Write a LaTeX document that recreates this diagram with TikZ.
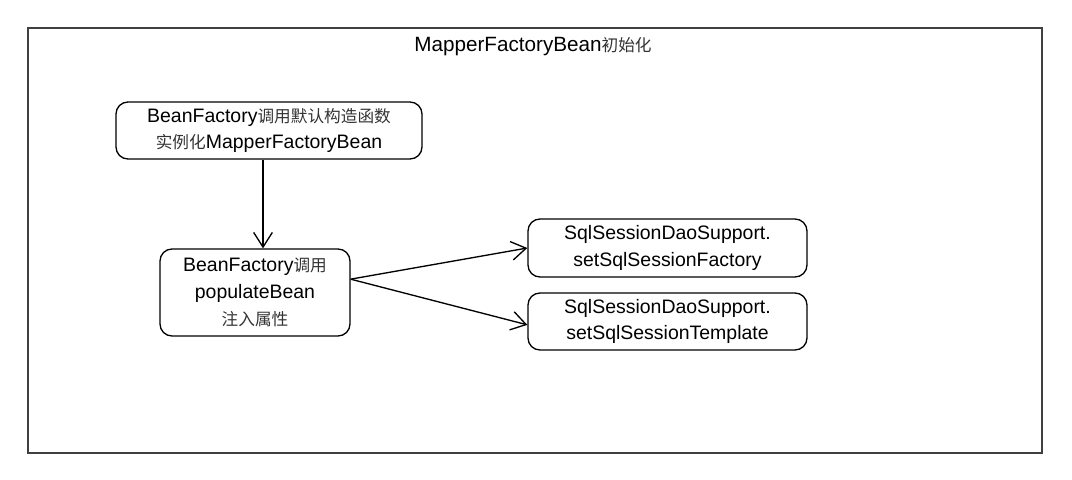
\documentclass[tikz,border=0pt]{standalone}
\usepackage{fontspec}
\setmainfont{Liberation Sans}
\newfontfamily\cjk{Noto Sans CJK SC}
\newcommand{\zh}[1]{{\cjk\fontsize{12.5}{15}\selectfont\color{black!80} #1}}
\usetikzlibrary{arrows.meta}
\tikzset{>={Straight Barb[length=11pt,width=14pt]}}
\tikzset{stepbox/.style={draw,rounded corners=9pt,line width=1pt,align=center,font=\fontsize{14.6}{20}\selectfont,inner sep=0pt}}

\begin{document}
\begin{tikzpicture}[x=0.75pt,y=-0.75pt]
\useasboundingbox (0,0) rectangle (1072,479);

\draw[line width=1.5, color=black!75] (28,28) rectangle (1042,453);
\node (title) at (533,47) {\fontsize{15.5}{18}\selectfont MapperFactoryBean\zh{初始化}};

\node[stepbox, minimum width=229.5pt, minimum height=42.75pt] (init) at (269,130.5) {BeanFactory\zh{调用默认构造函数}\\ \zh{实例化}MapperFactoryBean};
\node[stepbox, minimum width=142.5pt, minimum height=65.25pt] (populate) at (255,292.5) {BeanFactory\zh{调用}\\ populateBean\\ \zh{注入属性}};
\node[stepbox, minimum width=209.25pt, minimum height=43.5pt] (factory) at (667.5,248) {SqlSessionDaoSupport.\\ setSqlSessionFactory};
\node[stepbox, minimum width=209.25pt, minimum height=42.75pt] (template) at (667.5,321.5) {SqlSessionDaoSupport.\\ setSqlSessionTemplate};

\draw[->, line width=1] ([xshift=-4.5pt]init.south) -- ([xshift=6pt]populate.north);
\draw[->, line width=1] ([yshift=10pt]populate.east) -- (factory.west);
\draw[->, line width=1] ([yshift=10pt]populate.east) -- ([yshift=-2.5pt]template.west);

\end{tikzpicture}
\end{document}
